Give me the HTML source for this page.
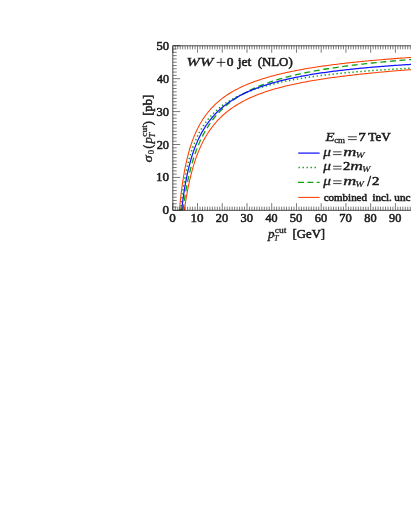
<!DOCTYPE html>
<html><head><meta charset="utf-8"><title>WW+0 jet (NLO)</title>
<style>
html,body{margin:0;padding:0;background:#fff;}
body{width:411px;height:532px;overflow:hidden;font-family:"Liberation Serif",serif;}
svg{display:block;will-change:transform;}
text{font-family:"Liberation Serif",serif;fill:#1c1c1c;}
</style></head><body>
<svg width="411" height="532" viewBox="0 0 411 532">
<rect width="411" height="532" fill="#fff"/>
<g fill="none" stroke-linejoin="round">
<path d="M179.41,210.35 L179.56,208.68 L179.71,207.05 L179.86,205.46 L180.02,203.92 L180.17,202.41 L180.32,200.94 L180.47,199.51 L180.63,198.12 L180.78,196.76 L180.93,195.43 L181.08,194.13 L181.24,192.86 L181.39,191.62 L181.54,190.40 L181.69,189.22 L181.85,188.06 L182.00,186.92 L182.15,185.80 L182.30,184.71 L182.46,183.65 L182.61,182.60 L182.76,181.57 L182.91,180.56 L183.07,179.58 L183.22,178.61 L183.37,177.65 L183.52,176.72 L183.68,175.80 L183.83,174.90 L183.98,174.02 L184.13,173.15 L184.29,172.29 L184.44,171.45 L184.59,170.63 L184.74,169.81 L184.90,169.01 L185.05,168.23 L185.20,167.45 L185.35,166.69 L185.51,165.94 L185.66,165.20 L185.81,164.48 L185.96,163.76 L186.12,163.05 L186.27,162.36 L186.42,161.68 L186.57,161.00 L186.73,160.33 L186.88,159.68 L187.03,159.03 L187.18,158.39 L187.33,157.77 L187.49,157.15 L187.64,156.53 L187.79,155.93 L187.94,155.33 L188.10,154.75 L188.25,154.17 L188.40,153.59 L188.55,153.03 L188.71,152.47 L188.86,151.92 L189.01,151.37 L189.16,150.84 L189.32,150.30 L189.47,149.78 L189.62,149.26 L189.77,148.75 L189.93,148.24 L190.08,147.74 L190.23,147.25 L190.38,146.76 L190.54,146.28 L190.69,145.80 L190.84,145.33 L190.99,144.86 L191.15,144.40 L191.30,143.94 L191.45,143.49 L191.60,143.04 L191.76,142.60 L191.91,142.16 L192.06,141.73 L192.21,141.30 L192.37,140.88 L192.52,140.46 L192.67,140.04 L192.82,139.63 L192.98,139.23 L193.13,138.82 L193.28,138.43 L193.43,138.03 L193.59,137.64 L193.74,137.25 L193.89,136.87 L194.04,136.49 L194.20,136.12 L194.35,135.74 L194.50,135.38 L194.65,135.01 L194.81,134.65 L194.96,134.29 L195.11,133.94 L195.26,133.58 L195.42,133.24 L195.57,132.89 L195.72,132.55 L195.87,132.21 L196.03,131.87 L196.18,131.54 L196.33,131.21 L196.48,130.88 L196.64,130.56 L196.79,130.24 L196.94,129.92 L197.09,129.60 L197.25,129.29 L197.40,128.98 L197.55,128.67 L197.70,128.36 L197.85,128.06 L198.01,127.76 L198.16,127.46 L198.31,127.17 L198.46,126.87 L198.62,126.58 L198.77,126.30 L198.92,126.01 L199.07,125.73 L199.23,125.44 L199.38,125.16 L199.53,124.89 L199.68,124.61 L199.84,124.34 L199.99,124.07 L200.14,123.80 L200.29,123.53 L200.45,123.27 L200.60,123.01 L200.75,122.74 L200.90,122.49 L201.06,122.23 L201.21,121.97 L201.36,121.72 L201.51,121.47 L201.67,121.22 L201.82,120.97 L201.97,120.73 L202.12,120.48 L202.28,120.24 L202.43,120.00 L202.58,119.76 L202.73,119.52 L202.89,119.29 L203.04,119.05 L203.19,118.82 L203.34,118.59 L203.50,118.36 L203.65,118.14 L203.80,117.91 L203.95,117.69 L204.11,117.46 L204.26,117.24 L204.41,117.02 L204.56,116.80 L204.72,116.59 L204.87,116.37 L205.02,116.16 L205.17,115.94 L205.33,115.73 L205.48,115.52 L205.63,115.31 L205.78,115.11 L205.94,114.90 L206.09,114.70 L206.24,114.49 L206.39,114.29 L206.55,114.09 L206.70,113.89 L206.85,113.69 L207.00,113.50 L207.16,113.30 L207.31,113.11 L207.46,112.91 L207.61,112.72 L207.77,112.53 L207.92,112.34 L208.07,112.15 L208.22,111.96 L208.37,111.78 L208.53,111.59 L208.68,111.41 L208.83,111.23 L208.98,111.04 L209.14,110.86 L209.29,110.68 L209.44,110.50 L209.59,110.33 L209.75,110.15 L209.90,109.97 L211.49,108.20 L213.08,106.53 L214.67,104.94 L216.26,103.44 L217.86,102.02 L219.45,100.67 L221.04,99.38 L222.63,98.15 L224.22,96.98 L225.81,95.86 L227.40,94.79 L229.00,93.76 L230.59,92.77 L232.18,91.82 L233.77,90.91 L235.36,90.03 L236.95,89.19 L238.54,88.37 L240.14,87.59 L241.73,86.83 L243.32,86.09 L244.91,85.38 L246.50,84.70 L248.09,84.03 L249.68,83.39 L251.27,82.77 L252.87,82.16 L254.46,81.57 L256.05,81.00 L257.64,80.45 L259.23,79.91 L260.82,79.38 L262.41,78.87 L264.01,78.38 L265.60,77.89 L267.19,77.42 L268.78,76.96 L270.37,76.52 L271.96,76.08 L273.55,75.65 L275.14,75.24 L276.74,74.83 L278.33,74.44 L279.92,74.05 L281.51,73.67 L283.10,73.30 L284.69,72.94 L286.28,72.58 L287.88,72.23 L289.47,71.90 L291.06,71.56 L292.65,71.24 L294.24,70.92 L295.83,70.61 L297.42,70.30 L299.01,70.00 L300.61,69.70 L302.20,69.42 L303.79,69.13 L305.38,68.85 L306.97,68.58 L308.56,68.31 L310.15,68.05 L311.75,67.79 L313.34,67.54 L314.93,67.29 L316.52,67.04 L318.11,66.80 L319.70,66.57 L321.29,66.33 L322.89,66.10 L324.48,65.88 L326.07,65.66 L327.66,65.44 L329.25,65.23 L330.84,65.01 L332.43,64.81 L334.02,64.60 L335.62,64.40 L337.21,64.20 L338.80,64.01 L340.39,63.81 L341.98,63.63 L343.57,63.44 L345.16,63.25 L346.76,63.07 L348.35,62.89 L349.94,62.72 L351.53,62.54 L353.12,62.37 L354.71,62.20 L356.30,62.04 L357.89,61.87 L359.49,61.71 L361.08,61.55 L362.67,61.39 L364.26,61.24 L365.85,61.08 L367.44,60.93 L369.03,60.78 L370.63,60.63 L372.22,60.49 L373.81,60.34 L375.40,60.20 L376.99,60.06 L378.58,59.92 L380.17,59.78 L381.77,59.65 L383.36,59.51 L384.95,59.38 L386.54,59.25 L388.13,59.12 L389.72,58.99 L391.31,58.87 L392.90,58.74 L394.50,58.62 L396.09,58.50 L397.68,58.38 L399.27,58.26 L400.86,58.14 L402.45,58.02 L404.04,57.90 L405.64,57.79 L407.23,57.68 L408.82,57.57 L410.41,57.45 L412.00,57.34" stroke="#ff3c00" stroke-width="1.05"/>
<path d="M184.33,210.35 L184.44,209.57 L184.59,208.49 L184.74,207.43 L184.90,206.38 L185.05,205.35 L185.20,204.34 L185.35,203.34 L185.51,202.36 L185.66,201.39 L185.81,200.44 L185.96,199.50 L186.12,198.58 L186.27,197.67 L186.42,196.77 L186.57,195.89 L186.73,195.02 L186.88,194.16 L187.03,193.31 L187.18,192.48 L187.33,191.66 L187.49,190.84 L187.64,190.04 L187.79,189.25 L187.94,188.47 L188.10,187.71 L188.25,186.95 L188.40,186.20 L188.55,185.46 L188.71,184.73 L188.86,184.01 L189.01,183.30 L189.16,182.59 L189.32,181.90 L189.47,181.21 L189.62,180.54 L189.77,179.87 L189.93,179.21 L190.08,178.55 L190.23,177.91 L190.38,177.27 L190.54,176.64 L190.69,176.02 L190.84,175.40 L190.99,174.79 L191.15,174.19 L191.30,173.60 L191.45,173.01 L191.60,172.43 L191.76,171.85 L191.91,171.28 L192.06,170.72 L192.21,170.16 L192.37,169.61 L192.52,169.07 L192.67,168.53 L192.82,167.99 L192.98,167.46 L193.13,166.94 L193.28,166.42 L193.43,165.91 L193.59,165.41 L193.74,164.90 L193.89,164.41 L194.04,163.92 L194.20,163.43 L194.35,162.95 L194.50,162.47 L194.65,162.00 L194.81,161.53 L194.96,161.07 L195.11,160.61 L195.26,160.15 L195.42,159.70 L195.57,159.26 L195.72,158.81 L195.87,158.38 L196.03,157.94 L196.18,157.51 L196.33,157.09 L196.48,156.66 L196.64,156.25 L196.79,155.83 L196.94,155.42 L197.09,155.01 L197.25,154.61 L197.40,154.21 L197.55,153.81 L197.70,153.42 L197.85,153.03 L198.01,152.64 L198.16,152.26 L198.31,151.88 L198.46,151.50 L198.62,151.13 L198.77,150.76 L198.92,150.39 L199.07,150.03 L199.23,149.67 L199.38,149.31 L199.53,148.95 L199.68,148.60 L199.84,148.25 L199.99,147.91 L200.14,147.56 L200.29,147.22 L200.45,146.88 L200.60,146.55 L200.75,146.21 L200.90,145.88 L201.06,145.56 L201.21,145.23 L201.36,144.91 L201.51,144.59 L201.67,144.27 L201.82,143.95 L201.97,143.64 L202.12,143.33 L202.28,143.02 L202.43,142.72 L202.58,142.41 L202.73,142.11 L202.89,141.81 L203.04,141.51 L203.19,141.22 L203.34,140.93 L203.50,140.64 L203.65,140.35 L203.80,140.06 L203.95,139.78 L204.11,139.49 L204.26,139.21 L204.41,138.93 L204.56,138.66 L204.72,138.38 L204.87,138.11 L205.02,137.84 L205.17,137.57 L205.33,137.30 L205.48,137.04 L205.63,136.78 L205.78,136.51 L205.94,136.26 L206.09,136.00 L206.24,135.74 L206.39,135.49 L206.55,135.23 L206.70,134.98 L206.85,134.73 L207.00,134.49 L207.16,134.24 L207.31,133.99 L207.46,133.75 L207.61,133.51 L207.77,133.27 L207.92,133.03 L208.07,132.80 L208.22,132.56 L208.37,132.33 L208.53,132.09 L208.68,131.86 L208.83,131.63 L208.98,131.41 L209.14,131.18 L209.29,130.96 L209.44,130.73 L209.59,130.51 L209.75,130.29 L209.90,130.07 L211.49,127.86 L213.08,125.78 L214.67,123.82 L216.26,121.97 L217.86,120.22 L219.45,118.57 L221.04,117.00 L222.63,115.51 L224.22,114.09 L225.81,112.73 L227.40,111.44 L229.00,110.21 L230.59,109.03 L232.18,107.91 L233.77,106.83 L235.36,105.79 L236.95,104.79 L238.54,103.84 L240.14,102.92 L241.73,102.03 L243.32,101.18 L244.91,100.36 L246.50,99.56 L248.09,98.80 L249.68,98.06 L251.27,97.34 L252.87,96.65 L254.46,95.98 L256.05,95.33 L257.64,94.70 L259.23,94.09 L260.82,93.50 L262.41,92.93 L264.01,92.37 L265.60,91.83 L267.19,91.30 L268.78,90.79 L270.37,90.29 L271.96,89.81 L273.55,89.33 L275.14,88.87 L276.74,88.42 L278.33,87.99 L279.92,87.56 L281.51,87.14 L283.10,86.74 L284.69,86.34 L286.28,85.95 L287.88,85.58 L289.47,85.21 L291.06,84.84 L292.65,84.49 L294.24,84.14 L295.83,83.81 L297.42,83.47 L299.01,83.15 L300.61,82.83 L302.20,82.52 L303.79,82.21 L305.38,81.92 L306.97,81.62 L308.56,81.33 L310.15,81.05 L311.75,80.77 L313.34,80.50 L314.93,80.24 L316.52,79.97 L318.11,79.72 L319.70,79.46 L321.29,79.21 L322.89,78.97 L324.48,78.73 L326.07,78.49 L327.66,78.26 L329.25,78.03 L330.84,77.81 L332.43,77.58 L334.02,77.37 L335.62,77.15 L337.21,76.94 L338.80,76.73 L340.39,76.53 L341.98,76.32 L343.57,76.13 L345.16,75.93 L346.76,75.74 L348.35,75.55 L349.94,75.36 L351.53,75.17 L353.12,74.99 L354.71,74.81 L356.30,74.63 L357.89,74.45 L359.49,74.28 L361.08,74.11 L362.67,73.94 L364.26,73.77 L365.85,73.61 L367.44,73.44 L369.03,73.28 L370.63,73.12 L372.22,72.97 L373.81,72.81 L375.40,72.66 L376.99,72.50 L378.58,72.35 L380.17,72.20 L381.77,72.06 L383.36,71.91 L384.95,71.77 L386.54,71.62 L388.13,71.48 L389.72,71.34 L391.31,71.21 L392.90,71.07 L394.50,70.93 L396.09,70.80 L397.68,70.67 L399.27,70.54 L400.86,70.40 L402.45,70.28 L404.04,70.15 L405.64,70.02 L407.23,69.90 L408.82,69.77 L410.41,69.65 L412.00,69.53" stroke="#ff3c00" stroke-width="1.05"/>
<path d="M180.62,210.35 L180.63,210.25 L180.78,208.72 L180.93,207.23 L181.08,205.78 L181.24,204.37 L181.39,202.99 L181.54,201.64 L181.69,200.32 L181.85,199.04 L182.00,197.78 L182.15,196.55 L182.30,195.35 L182.46,194.17 L182.61,193.02 L182.76,191.89 L182.91,190.79 L183.07,189.71 L183.22,188.65 L183.37,187.61 L183.52,186.59 L183.68,185.60 L183.83,184.62 L183.98,183.66 L184.13,182.71 L184.29,181.79 L184.44,180.88 L184.59,179.99 L184.74,179.11 L184.90,178.25 L185.05,177.40 L185.20,176.57 L185.35,175.75 L185.51,174.94 L185.66,174.15 L185.81,173.37 L185.96,172.61 L186.12,171.85 L186.27,171.11 L186.42,170.38 L186.57,169.66 L186.73,168.95 L186.88,168.25 L187.03,167.57 L187.18,166.89 L187.33,166.22 L187.49,165.56 L187.64,164.92 L187.79,164.28 L187.94,163.65 L188.10,163.03 L188.25,162.41 L188.40,161.81 L188.55,161.21 L188.71,160.62 L188.86,160.04 L189.01,159.47 L189.16,158.91 L189.32,158.35 L189.47,157.80 L189.62,157.25 L189.77,156.72 L189.93,156.19 L190.08,155.66 L190.23,155.14 L190.38,154.63 L190.54,154.13 L190.69,153.63 L190.84,153.14 L190.99,152.65 L191.15,152.17 L191.30,151.69 L191.45,151.22 L191.60,150.76 L191.76,150.30 L191.91,149.84 L192.06,149.39 L192.21,148.95 L192.37,148.51 L192.52,148.08 L192.67,147.65 L192.82,147.22 L192.98,146.80 L193.13,146.38 L193.28,145.97 L193.43,145.56 L193.59,145.16 L193.74,144.76 L193.89,144.37 L194.04,143.97 L194.20,143.59 L194.35,143.20 L194.50,142.82 L194.65,142.45 L194.81,142.08 L194.96,141.71 L195.11,141.34 L195.26,140.98 L195.42,140.62 L195.57,140.27 L195.72,139.92 L195.87,139.57 L196.03,139.23 L196.18,138.89 L196.33,138.55 L196.48,138.21 L196.64,137.88 L196.79,137.55 L196.94,137.22 L197.09,136.90 L197.25,136.58 L197.40,136.26 L197.55,135.95 L197.70,135.64 L197.85,135.33 L198.01,135.02 L198.16,134.72 L198.31,134.42 L198.46,134.12 L198.62,133.82 L198.77,133.53 L198.92,133.24 L199.07,132.95 L199.23,132.66 L199.38,132.38 L199.53,132.10 L199.68,131.82 L199.84,131.54 L199.99,131.27 L200.14,130.99 L200.29,130.72 L200.45,130.46 L200.60,130.19 L200.75,129.93 L200.90,129.66 L201.06,129.40 L201.21,129.15 L201.36,128.89 L201.51,128.64 L201.67,128.38 L201.82,128.13 L201.97,127.88 L202.12,127.64 L202.28,127.39 L202.43,127.15 L202.58,126.91 L202.73,126.67 L202.89,126.43 L203.04,126.20 L203.19,125.96 L203.34,125.73 L203.50,125.50 L203.65,125.27 L203.80,125.04 L203.95,124.82 L204.11,124.59 L204.26,124.37 L204.41,124.15 L204.56,123.93 L204.72,123.71 L204.87,123.50 L205.02,123.28 L205.17,123.07 L205.33,122.86 L205.48,122.65 L205.63,122.44 L205.78,122.23 L205.94,122.02 L206.09,121.82 L206.24,121.62 L206.39,121.41 L206.55,121.21 L206.70,121.01 L206.85,120.81 L207.00,120.62 L207.16,120.42 L207.31,120.23 L207.46,120.03 L207.61,119.84 L207.77,119.65 L207.92,119.46 L208.07,119.27 L208.22,119.09 L208.37,118.90 L208.53,118.72 L208.68,118.53 L208.83,118.35 L208.98,118.17 L209.14,117.99 L209.29,117.81 L209.44,117.63 L209.59,117.45 L209.75,117.28 L209.90,117.10 L211.49,115.34 L213.08,113.68 L214.67,112.11 L216.26,110.63 L217.86,109.23 L219.45,107.90 L221.04,106.64 L222.63,105.43 L224.22,104.29 L225.81,103.19 L227.40,102.15 L229.00,101.15 L230.59,100.19 L232.18,99.27 L233.77,98.39 L235.36,97.54 L236.95,96.73 L238.54,95.95 L240.14,95.19 L241.73,94.46 L243.32,93.76 L244.91,93.09 L246.50,92.43 L248.09,91.80 L249.68,91.19 L251.27,90.59 L252.87,90.02 L254.46,89.46 L256.05,88.93 L257.64,88.40 L259.23,87.90 L260.82,87.40 L262.41,86.92 L264.01,86.46 L265.60,86.01 L267.19,85.57 L268.78,85.14 L270.37,84.72 L271.96,84.32 L273.55,83.92 L275.14,83.54 L276.74,83.16 L278.33,82.80 L279.92,82.44 L281.51,82.09 L283.10,81.75 L284.69,81.42 L286.28,81.10 L287.88,80.78 L289.47,80.47 L291.06,80.17 L292.65,79.88 L294.24,79.59 L295.83,79.31 L297.42,79.03 L299.01,78.76 L300.61,78.50 L302.20,78.24 L303.79,77.98 L305.38,77.73 L306.97,77.49 L308.56,77.25 L310.15,77.02 L311.75,76.79 L313.34,76.57 L314.93,76.35 L316.52,76.13 L318.11,75.92 L319.70,75.71 L321.29,75.51 L322.89,75.31 L324.48,75.12 L326.07,74.92 L327.66,74.73 L329.25,74.55 L330.84,74.37 L332.43,74.19 L334.02,74.01 L335.62,73.84 L337.21,73.67 L338.80,73.51 L340.39,73.34 L341.98,73.18 L343.57,73.03 L345.16,72.87 L346.76,72.72 L348.35,72.57 L349.94,72.42 L351.53,72.28 L353.12,72.13 L354.71,71.99 L356.30,71.85 L357.89,71.72 L359.49,71.59 L361.08,71.45 L362.67,71.32 L364.26,71.20 L365.85,71.07 L367.44,70.95 L369.03,70.83 L370.63,70.71 L372.22,70.59 L373.81,70.47 L375.40,70.36 L376.99,70.25 L378.58,70.14 L380.17,70.03 L381.77,69.92 L383.36,69.81 L384.95,69.71 L386.54,69.61 L388.13,69.51 L389.72,69.41 L391.31,69.31 L392.90,69.21 L394.50,69.12 L396.09,69.02 L397.68,68.93 L399.27,68.84 L400.86,68.75 L402.45,68.66 L404.04,68.57 L405.64,68.49 L407.23,68.40 L408.82,68.32 L410.41,68.23 L412.00,68.15" stroke="#12a012" stroke-width="1.5" stroke-dasharray="1.4 2.6"/>
<path d="M182.93,210.35 L183.07,209.32 L183.22,208.17 L183.37,207.04 L183.52,205.93 L183.68,204.84 L183.83,203.77 L183.98,202.72 L184.13,201.68 L184.29,200.66 L184.44,199.65 L184.59,198.66 L184.74,197.69 L184.90,196.73 L185.05,195.78 L185.20,194.85 L185.35,193.94 L185.51,193.03 L185.66,192.14 L185.81,191.26 L185.96,190.40 L186.12,189.54 L186.27,188.70 L186.42,187.87 L186.57,187.05 L186.73,186.24 L186.88,185.45 L187.03,184.66 L187.18,183.88 L187.33,183.12 L187.49,182.36 L187.64,181.62 L187.79,180.88 L187.94,180.15 L188.10,179.43 L188.25,178.72 L188.40,178.02 L188.55,177.33 L188.71,176.64 L188.86,175.97 L189.01,175.30 L189.16,174.64 L189.32,173.99 L189.47,173.34 L189.62,172.70 L189.77,172.07 L189.93,171.45 L190.08,170.83 L190.23,170.22 L190.38,169.62 L190.54,169.02 L190.69,168.43 L190.84,167.85 L190.99,167.27 L191.15,166.70 L191.30,166.14 L191.45,165.58 L191.60,165.03 L191.76,164.48 L191.91,163.94 L192.06,163.40 L192.21,162.87 L192.37,162.34 L192.52,161.82 L192.67,161.31 L192.82,160.80 L192.98,160.29 L193.13,159.79 L193.28,159.30 L193.43,158.81 L193.59,158.32 L193.74,157.84 L193.89,157.36 L194.04,156.89 L194.20,156.42 L194.35,155.96 L194.50,155.50 L194.65,155.05 L194.81,154.59 L194.96,154.15 L195.11,153.70 L195.26,153.27 L195.42,152.83 L195.57,152.40 L195.72,151.97 L195.87,151.55 L196.03,151.13 L196.18,150.71 L196.33,150.30 L196.48,149.89 L196.64,149.49 L196.79,149.08 L196.94,148.68 L197.09,148.29 L197.25,147.90 L197.40,147.51 L197.55,147.12 L197.70,146.74 L197.85,146.36 L198.01,145.98 L198.16,145.61 L198.31,145.24 L198.46,144.87 L198.62,144.51 L198.77,144.14 L198.92,143.79 L199.07,143.43 L199.23,143.08 L199.38,142.73 L199.53,142.38 L199.68,142.03 L199.84,141.69 L199.99,141.35 L200.14,141.01 L200.29,140.68 L200.45,140.35 L200.60,140.02 L200.75,139.69 L200.90,139.36 L201.06,139.04 L201.21,138.72 L201.36,138.40 L201.51,138.09 L201.67,137.77 L201.82,137.46 L201.97,137.15 L202.12,136.85 L202.28,136.54 L202.43,136.24 L202.58,135.94 L202.73,135.64 L202.89,135.34 L203.04,135.05 L203.19,134.76 L203.34,134.47 L203.50,134.18 L203.65,133.89 L203.80,133.61 L203.95,133.33 L204.11,133.05 L204.26,132.77 L204.41,132.49 L204.56,132.22 L204.72,131.94 L204.87,131.67 L205.02,131.40 L205.17,131.13 L205.33,130.87 L205.48,130.60 L205.63,130.34 L205.78,130.08 L205.94,129.82 L206.09,129.56 L206.24,129.31 L206.39,129.05 L206.55,128.80 L206.70,128.55 L206.85,128.30 L207.00,128.05 L207.16,127.81 L207.31,127.56 L207.46,127.32 L207.61,127.08 L207.77,126.84 L207.92,126.60 L208.07,126.36 L208.22,126.12 L208.37,125.89 L208.53,125.66 L208.68,125.42 L208.83,125.19 L208.98,124.96 L209.14,124.74 L209.29,124.51 L209.44,124.28 L209.59,124.06 L209.75,123.84 L209.90,123.62 L211.49,121.38 L213.08,119.27 L214.67,117.28 L216.26,115.39 L217.86,113.60 L219.45,111.90 L221.04,110.29 L222.63,108.74 L224.22,107.27 L225.81,105.87 L227.40,104.52 L229.00,103.24 L230.59,102.00 L232.18,100.82 L233.77,99.68 L235.36,98.59 L236.95,97.54 L238.54,96.52 L240.14,95.55 L241.73,94.60 L243.32,93.70 L244.91,92.82 L246.50,91.97 L248.09,91.15 L249.68,90.36 L251.27,89.59 L252.87,88.84 L254.46,88.12 L256.05,87.42 L257.64,86.74 L259.23,86.08 L260.82,85.44 L262.41,84.82 L264.01,84.21 L265.60,83.62 L267.19,83.05 L268.78,82.49 L270.37,81.95 L271.96,81.42 L273.55,80.90 L275.14,80.40 L276.74,79.91 L278.33,79.43 L279.92,78.96 L281.51,78.51 L283.10,78.06 L284.69,77.63 L286.28,77.20 L287.88,76.78 L289.47,76.38 L291.06,75.98 L292.65,75.59 L294.24,75.21 L295.83,74.84 L297.42,74.47 L299.01,74.12 L300.61,73.77 L302.20,73.42 L303.79,73.09 L305.38,72.76 L306.97,72.44 L308.56,72.12 L310.15,71.81 L311.75,71.51 L313.34,71.21 L314.93,70.91 L316.52,70.62 L318.11,70.34 L319.70,70.06 L321.29,69.79 L322.89,69.52 L324.48,69.26 L326.07,69.00 L327.66,68.75 L329.25,68.50 L330.84,68.25 L332.43,68.01 L334.02,67.77 L335.62,67.54 L337.21,67.30 L338.80,67.08 L340.39,66.85 L341.98,66.63 L343.57,66.42 L345.16,66.21 L346.76,66.00 L348.35,65.79 L349.94,65.59 L351.53,65.38 L353.12,65.19 L354.71,64.99 L356.30,64.80 L357.89,64.61 L359.49,64.42 L361.08,64.24 L362.67,64.06 L364.26,63.88 L365.85,63.70 L367.44,63.53 L369.03,63.36 L370.63,63.19 L372.22,63.02 L373.81,62.85 L375.40,62.69 L376.99,62.53 L378.58,62.37 L380.17,62.21 L381.77,62.06 L383.36,61.90 L384.95,61.75 L386.54,61.60 L388.13,61.46 L389.72,61.31 L391.31,61.17 L392.90,61.02 L394.50,60.88 L396.09,60.74 L397.68,60.61 L399.27,60.47 L400.86,60.33 L402.45,60.20 L404.04,60.07 L405.64,59.94 L407.23,59.81 L408.82,59.68 L410.41,59.56 L412.00,59.43" stroke="#12a012" stroke-width="1.3" stroke-dasharray="6 3.6"/>
<path d="M181.64,210.35 L181.69,209.85 L181.85,208.52 L182.00,207.21 L182.15,205.93 L182.30,204.68 L182.46,203.46 L182.61,202.25 L182.76,201.08 L182.91,199.92 L183.07,198.79 L183.22,197.68 L183.37,196.59 L183.52,195.53 L183.68,194.48 L183.83,193.45 L183.98,192.44 L184.13,191.44 L184.29,190.47 L184.44,189.51 L184.59,188.57 L184.74,187.64 L184.90,186.73 L185.05,185.83 L185.20,184.95 L185.35,184.08 L185.51,183.23 L185.66,182.39 L185.81,181.56 L185.96,180.75 L186.12,179.94 L186.27,179.15 L186.42,178.37 L186.57,177.61 L186.73,176.85 L186.88,176.11 L187.03,175.37 L187.18,174.65 L187.33,173.94 L187.49,173.23 L187.64,172.54 L187.79,171.85 L187.94,171.18 L188.10,170.51 L188.25,169.86 L188.40,169.21 L188.55,168.57 L188.71,167.93 L188.86,167.31 L189.01,166.69 L189.16,166.08 L189.32,165.48 L189.47,164.89 L189.62,164.30 L189.77,163.73 L189.93,163.15 L190.08,162.59 L190.23,162.03 L190.38,161.48 L190.54,160.93 L190.69,160.39 L190.84,159.86 L190.99,159.33 L191.15,158.81 L191.30,158.29 L191.45,157.78 L191.60,157.28 L191.76,156.78 L191.91,156.29 L192.06,155.80 L192.21,155.32 L192.37,154.84 L192.52,154.37 L192.67,153.90 L192.82,153.44 L192.98,152.98 L193.13,152.53 L193.28,152.08 L193.43,151.63 L193.59,151.20 L193.74,150.76 L193.89,150.33 L194.04,149.90 L194.20,149.48 L194.35,149.06 L194.50,148.65 L194.65,148.24 L194.81,147.83 L194.96,147.43 L195.11,147.03 L195.26,146.63 L195.42,146.24 L195.57,145.85 L195.72,145.47 L195.87,145.09 L196.03,144.71 L196.18,144.34 L196.33,143.97 L196.48,143.60 L196.64,143.24 L196.79,142.87 L196.94,142.52 L197.09,142.16 L197.25,141.81 L197.40,141.46 L197.55,141.12 L197.70,140.77 L197.85,140.43 L198.01,140.10 L198.16,139.76 L198.31,139.43 L198.46,139.10 L198.62,138.78 L198.77,138.45 L198.92,138.13 L199.07,137.82 L199.23,137.50 L199.38,137.19 L199.53,136.88 L199.68,136.57 L199.84,136.26 L199.99,135.96 L200.14,135.66 L200.29,135.36 L200.45,135.06 L200.60,134.77 L200.75,134.48 L200.90,134.19 L201.06,133.90 L201.21,133.62 L201.36,133.33 L201.51,133.05 L201.67,132.77 L201.82,132.50 L201.97,132.22 L202.12,131.95 L202.28,131.68 L202.43,131.41 L202.58,131.14 L202.73,130.88 L202.89,130.62 L203.04,130.36 L203.19,130.10 L203.34,129.84 L203.50,129.58 L203.65,129.33 L203.80,129.08 L203.95,128.83 L204.11,128.58 L204.26,128.33 L204.41,128.09 L204.56,127.84 L204.72,127.60 L204.87,127.36 L205.02,127.12 L205.17,126.88 L205.33,126.65 L205.48,126.41 L205.63,126.18 L205.78,125.95 L205.94,125.72 L206.09,125.49 L206.24,125.27 L206.39,125.04 L206.55,124.82 L206.70,124.60 L206.85,124.38 L207.00,124.16 L207.16,123.94 L207.31,123.72 L207.46,123.51 L207.61,123.29 L207.77,123.08 L207.92,122.87 L208.07,122.66 L208.22,122.45 L208.37,122.24 L208.53,122.04 L208.68,121.83 L208.83,121.63 L208.98,121.43 L209.14,121.23 L209.29,121.03 L209.44,120.83 L209.59,120.63 L209.75,120.43 L209.90,120.24 L211.49,118.27 L213.08,116.41 L214.67,114.65 L216.26,112.99 L217.86,111.42 L219.45,109.92 L221.04,108.50 L222.63,107.15 L224.22,105.85 L225.81,104.62 L227.40,103.44 L229.00,102.31 L230.59,101.22 L232.18,100.18 L233.77,99.18 L235.36,98.22 L236.95,97.30 L238.54,96.41 L240.14,95.55 L241.73,94.72 L243.32,93.93 L244.91,93.16 L246.50,92.41 L248.09,91.69 L249.68,90.99 L251.27,90.32 L252.87,89.66 L254.46,89.03 L256.05,88.41 L257.64,87.81 L259.23,87.23 L260.82,86.67 L262.41,86.12 L264.01,85.59 L265.60,85.07 L267.19,84.57 L268.78,84.08 L270.37,83.60 L271.96,83.14 L273.55,82.68 L275.14,82.24 L276.74,81.81 L278.33,81.39 L279.92,80.98 L281.51,80.58 L283.10,80.19 L284.69,79.81 L286.28,79.44 L287.88,79.07 L289.47,78.72 L291.06,78.37 L292.65,78.03 L294.24,77.69 L295.83,77.37 L297.42,77.05 L299.01,76.74 L300.61,76.43 L302.20,76.13 L303.79,75.84 L305.38,75.55 L306.97,75.27 L308.56,75.00 L310.15,74.73 L311.75,74.46 L313.34,74.20 L314.93,73.95 L316.52,73.70 L318.11,73.45 L319.70,73.21 L321.29,72.98 L322.89,72.74 L324.48,72.52 L326.07,72.29 L327.66,72.07 L329.25,71.86 L330.84,71.65 L332.43,71.44 L334.02,71.23 L335.62,71.03 L337.21,70.84 L338.80,70.64 L340.39,70.45 L341.98,70.26 L343.57,70.08 L345.16,69.90 L346.76,69.72 L348.35,69.54 L349.94,69.37 L351.53,69.20 L353.12,69.03 L354.71,68.87 L356.30,68.71 L357.89,68.55 L359.49,68.39 L361.08,68.24 L362.67,68.08 L364.26,67.94 L365.85,67.79 L367.44,67.64 L369.03,67.50 L370.63,67.36 L372.22,67.22 L373.81,67.08 L375.40,66.95 L376.99,66.81 L378.58,66.68 L380.17,66.55 L381.77,66.43 L383.36,66.30 L384.95,66.18 L386.54,66.06 L388.13,65.94 L389.72,65.82 L391.31,65.70 L392.90,65.58 L394.50,65.47 L396.09,65.36 L397.68,65.25 L399.27,65.14 L400.86,65.03 L402.45,64.92 L404.04,64.82 L405.64,64.72 L407.23,64.61 L408.82,64.51 L410.41,64.41 L412.00,64.32" stroke="#1414ff" stroke-width="1.25"/>
</g>
<path d="M172.80,210.35v-7.2M172.80,45.75v7M175.27,210.35v-3.7M175.27,45.75v3.6M177.75,210.35v-3.7M177.75,45.75v3.6M180.22,210.35v-3.7M180.22,45.75v3.6M182.69,210.35v-3.7M182.69,45.75v3.6M185.17,210.35v-3.7M185.17,45.75v3.6M187.64,210.35v-3.7M187.64,45.75v3.6M190.11,210.35v-3.7M190.11,45.75v3.6M192.59,210.35v-3.7M192.59,45.75v3.6M195.06,210.35v-3.7M195.06,45.75v3.6M197.53,210.35v-7.2M197.53,45.75v7M200.01,210.35v-3.7M200.01,45.75v3.6M202.48,210.35v-3.7M202.48,45.75v3.6M204.95,210.35v-3.7M204.95,45.75v3.6M207.43,210.35v-3.7M207.43,45.75v3.6M209.90,210.35v-3.7M209.90,45.75v3.6M212.37,210.35v-3.7M212.37,45.75v3.6M214.85,210.35v-3.7M214.85,45.75v3.6M217.32,210.35v-3.7M217.32,45.75v3.6M219.79,210.35v-3.7M219.79,45.75v3.6M222.27,210.35v-7.2M222.27,45.75v7M224.74,210.35v-3.7M224.74,45.75v3.6M227.21,210.35v-3.7M227.21,45.75v3.6M229.69,210.35v-3.7M229.69,45.75v3.6M232.16,210.35v-3.7M232.16,45.75v3.6M234.63,210.35v-3.7M234.63,45.75v3.6M237.11,210.35v-3.7M237.11,45.75v3.6M239.58,210.35v-3.7M239.58,45.75v3.6M242.05,210.35v-3.7M242.05,45.75v3.6M244.53,210.35v-3.7M244.53,45.75v3.6M247.00,210.35v-7.2M247.00,45.75v7M249.47,210.35v-3.7M249.47,45.75v3.6M251.95,210.35v-3.7M251.95,45.75v3.6M254.42,210.35v-3.7M254.42,45.75v3.6M256.89,210.35v-3.7M256.89,45.75v3.6M259.37,210.35v-3.7M259.37,45.75v3.6M261.84,210.35v-3.7M261.84,45.75v3.6M264.31,210.35v-3.7M264.31,45.75v3.6M266.79,210.35v-3.7M266.79,45.75v3.6M269.26,210.35v-3.7M269.26,45.75v3.6M271.73,210.35v-7.2M271.73,45.75v7M274.21,210.35v-3.7M274.21,45.75v3.6M276.68,210.35v-3.7M276.68,45.75v3.6M279.15,210.35v-3.7M279.15,45.75v3.6M281.63,210.35v-3.7M281.63,45.75v3.6M284.10,210.35v-3.7M284.10,45.75v3.6M286.57,210.35v-3.7M286.57,45.75v3.6M289.05,210.35v-3.7M289.05,45.75v3.6M291.52,210.35v-3.7M291.52,45.75v3.6M293.99,210.35v-3.7M293.99,45.75v3.6M296.47,210.35v-7.2M296.47,45.75v7M298.94,210.35v-3.7M298.94,45.75v3.6M301.41,210.35v-3.7M301.41,45.75v3.6M303.88,210.35v-3.7M303.88,45.75v3.6M306.36,210.35v-3.7M306.36,45.75v3.6M308.83,210.35v-3.7M308.83,45.75v3.6M311.30,210.35v-3.7M311.30,45.75v3.6M313.78,210.35v-3.7M313.78,45.75v3.6M316.25,210.35v-3.7M316.25,45.75v3.6M318.72,210.35v-3.7M318.72,45.75v3.6M321.20,210.35v-7.2M321.20,45.75v7M323.67,210.35v-3.7M323.67,45.75v3.6M326.14,210.35v-3.7M326.14,45.75v3.6M328.62,210.35v-3.7M328.62,45.75v3.6M331.09,210.35v-3.7M331.09,45.75v3.6M333.56,210.35v-3.7M333.56,45.75v3.6M336.04,210.35v-3.7M336.04,45.75v3.6M338.51,210.35v-3.7M338.51,45.75v3.6M340.98,210.35v-3.7M340.98,45.75v3.6M343.46,210.35v-3.7M343.46,45.75v3.6M345.93,210.35v-7.2M345.93,45.75v7M348.40,210.35v-3.7M348.40,45.75v3.6M350.88,210.35v-3.7M350.88,45.75v3.6M353.35,210.35v-3.7M353.35,45.75v3.6M355.82,210.35v-3.7M355.82,45.75v3.6M358.30,210.35v-3.7M358.30,45.75v3.6M360.77,210.35v-3.7M360.77,45.75v3.6M363.24,210.35v-3.7M363.24,45.75v3.6M365.72,210.35v-3.7M365.72,45.75v3.6M368.19,210.35v-3.7M368.19,45.75v3.6M370.66,210.35v-7.2M370.66,45.75v7M373.14,210.35v-3.7M373.14,45.75v3.6M375.61,210.35v-3.7M375.61,45.75v3.6M378.08,210.35v-3.7M378.08,45.75v3.6M380.56,210.35v-3.7M380.56,45.75v3.6M383.03,210.35v-3.7M383.03,45.75v3.6M385.50,210.35v-3.7M385.50,45.75v3.6M387.98,210.35v-3.7M387.98,45.75v3.6M390.45,210.35v-3.7M390.45,45.75v3.6M392.92,210.35v-3.7M392.92,45.75v3.6M395.40,210.35v-7.2M395.40,45.75v7M397.87,210.35v-3.7M397.87,45.75v3.6M400.34,210.35v-3.7M400.34,45.75v3.6M402.82,210.35v-3.7M402.82,45.75v3.6M405.29,210.35v-3.7M405.29,45.75v3.6M407.76,210.35v-3.7M407.76,45.75v3.6M410.24,210.35v-3.7M410.24,45.75v3.6M172.8,210.35h7.4M172.8,207.06h3.9M172.8,203.77h3.9M172.8,200.47h3.9M172.8,197.18h3.9M172.8,193.89h3.9M172.8,190.60h3.9M172.8,187.31h3.9M172.8,184.01h3.9M172.8,180.72h3.9M172.8,177.43h7.4M172.8,174.14h3.9M172.8,170.85h3.9M172.8,167.55h3.9M172.8,164.26h3.9M172.8,160.97h3.9M172.8,157.68h3.9M172.8,154.39h3.9M172.8,151.09h3.9M172.8,147.80h3.9M172.8,144.51h7.4M172.8,141.22h3.9M172.8,137.93h3.9M172.8,134.63h3.9M172.8,131.34h3.9M172.8,128.05h3.9M172.8,124.76h3.9M172.8,121.47h3.9M172.8,118.17h3.9M172.8,114.88h3.9M172.8,111.59h7.4M172.8,108.30h3.9M172.8,105.01h3.9M172.8,101.71h3.9M172.8,98.42h3.9M172.8,95.13h3.9M172.8,91.84h3.9M172.8,88.55h3.9M172.8,85.25h3.9M172.8,81.96h3.9M172.8,78.67h7.4M172.8,75.38h3.9M172.8,72.09h3.9M172.8,68.79h3.9M172.8,65.50h3.9M172.8,62.21h3.9M172.8,58.92h3.9M172.8,55.63h3.9M172.8,52.33h3.9M172.8,49.04h3.9M172.8,45.75h7.4" stroke="#000" stroke-width="0.52" fill="none"/>
<path d="M412,45.75H172.8V210.35H412" stroke="#000" stroke-width="0.68" fill="none"/>
<path d="M216.6,62.4H225.4M221,58V66.8" stroke="#1c1c1c" stroke-width="0.9" fill="none"/>
<path d="M347.9,136.8H356.8M347.9,139.6H356.8M333.1,151.85H341.6M333.1,154.60H341.6M333.1,166.25H341.6M333.1,169.00H341.6M333.1,180.85H341.6M333.1,183.60H341.6" stroke="#1c1c1c" stroke-width="0.85" fill="none"/>
<path d="M298.2,153.1H319.6" stroke="#1414ff" stroke-width="1.25"/>
<path d="M298.5,167.6H317" stroke="#12a012" stroke-width="1.5" stroke-dasharray="1.4 2.6"/>
<path d="M298,182.4H319.6" stroke="#12a012" stroke-width="1.3" stroke-dasharray="6 3.4"/>
<path d="M298.2,197.4H319.6" stroke="#ff3c00" stroke-width="1.05"/>
<text transform="translate(186.59,65.80) scale(1.300,1)" style="font-size:12.3px;stroke:#1c1c1c;stroke-width:0.34px;font-style:italic;">WW</text>
<text transform="translate(226.63,65.80) scale(1.096,1)" style="font-size:12.3px;stroke:#1c1c1c;stroke-width:0.55px;">0</text>
<text transform="translate(237.70,65.80) scale(1.112,1)" style="font-size:12.3px;stroke:#1c1c1c;stroke-width:0.55px;">jet</text>
<text transform="translate(257.74,65.80) scale(1.045,1)" style="font-size:12.3px;stroke:#1c1c1c;stroke-width:0.55px;">(NLO)</text>
<text transform="translate(325.55,140.90) scale(1.206,1)" style="font-size:12.3px;stroke:#1c1c1c;stroke-width:0.34px;font-style:italic;">E</text>
<text transform="translate(334.15,142.85) scale(1.228,1)" style="font-size:7.3px;stroke:#1c1c1c;stroke-width:0.275px;">cm</text>
<text transform="translate(358.61,140.90) scale(1.182,1)" style="font-size:12.3px;stroke:#1c1c1c;stroke-width:0.55px;">7</text>
<text transform="translate(368.30,140.90) scale(1.065,1)" style="font-size:12.3px;stroke:#1c1c1c;stroke-width:0.55px;">TeV</text>
<text transform="translate(323.16,155.80) scale(1.250,1)" style="font-size:12.3px;stroke:#1c1c1c;stroke-width:0.34px;font-style:italic;">μ</text>
<text transform="translate(323.16,170.20) scale(1.250,1)" style="font-size:12.3px;stroke:#1c1c1c;stroke-width:0.34px;font-style:italic;">μ</text>
<text transform="translate(323.16,184.80) scale(1.250,1)" style="font-size:12.3px;stroke:#1c1c1c;stroke-width:0.34px;font-style:italic;">μ</text>
<text transform="translate(343.33,155.80) scale(1.479,1)" style="font-size:12.3px;stroke:#1c1c1c;stroke-width:0.34px;font-style:italic;">m</text>
<text transform="translate(355.44,157.80) scale(1.506,1)" style="font-size:7.3px;stroke:#1c1c1c;stroke-width:0.17px;font-style:italic;">W</text>
<text transform="translate(343.10,170.20) scale(1.182,1)" style="font-size:12.3px;stroke:#1c1c1c;stroke-width:0.55px;">2</text>
<text transform="translate(350.35,170.20) scale(1.418,1)" style="font-size:12.3px;stroke:#1c1c1c;stroke-width:0.34px;font-style:italic;">m</text>
<text transform="translate(361.98,172.20) scale(1.396,1)" style="font-size:7.3px;stroke:#1c1c1c;stroke-width:0.17px;font-style:italic;">W</text>
<text transform="translate(343.13,184.80) scale(1.467,1)" style="font-size:12.3px;stroke:#1c1c1c;stroke-width:0.34px;font-style:italic;">m</text>
<text transform="translate(355.16,186.80) scale(1.427,1)" style="font-size:7.3px;stroke:#1c1c1c;stroke-width:0.17px;font-style:italic;">W</text>
<text transform="translate(367.26,185.70) scale(0.973,1)" style="font-size:13.8px;stroke:#1c1c1c;stroke-width:0.55px;">/</text>
<text transform="translate(372.00,184.80) scale(1.200,1)" style="font-size:12.3px;stroke:#1c1c1c;stroke-width:0.55px;">2</text>
<text transform="translate(323.76,200.50) scale(1.086,1)" style="font-size:10.1px;stroke:#1c1c1c;stroke-width:0.55px;">combined</text>
<text transform="translate(372.50,200.50) scale(1.090,1)" style="font-size:10.1px;stroke:#1c1c1c;stroke-width:0.55px;">incl.</text>
<text transform="translate(394.34,200.50) scale(1.108,1)" style="font-size:10.1px;stroke:#1c1c1c;stroke-width:0.55px;">unc</text>
<text transform="translate(268.02,238.10) scale(1.052,1)" style="font-size:12.3px;stroke:#1c1c1c;stroke-width:0.34px;font-style:italic;">p</text>
<text transform="translate(273.75,241.00) scale(1.200,1)" style="font-size:7.3px;stroke:#1c1c1c;stroke-width:0.17px;font-style:italic;">T</text>
<text transform="translate(274.74,232.90) scale(1.307,1)" style="font-size:7.3px;stroke:#1c1c1c;stroke-width:0.275px;">cut</text>
<text transform="translate(292.55,238.00) scale(1.036,1)" style="font-size:12.3px;stroke:#1c1c1c;stroke-width:0.55px;">[GeV]</text>
<text transform="translate(169.28,222.00) scale(1.061,1)" style="font-size:12.3px;stroke:#1c1c1c;stroke-width:0.55px;">0</text>
<text transform="translate(190.46,222.00) scale(1.058,1)" style="font-size:12.3px;stroke:#1c1c1c;stroke-width:0.55px;">10</text>
<text transform="translate(215.87,222.00) scale(1.002,1)" style="font-size:12.3px;stroke:#1c1c1c;stroke-width:0.55px;">20</text>
<text transform="translate(240.47,222.00) scale(1.013,1)" style="font-size:12.3px;stroke:#1c1c1c;stroke-width:0.55px;">30</text>
<text transform="translate(265.58,222.00) scale(0.981,1)" style="font-size:12.3px;stroke:#1c1c1c;stroke-width:0.55px;">40</text>
<text transform="translate(289.80,222.00) scale(1.024,1)" style="font-size:12.3px;stroke:#1c1c1c;stroke-width:0.55px;">50</text>
<text transform="translate(314.80,222.00) scale(1.002,1)" style="font-size:12.3px;stroke:#1c1c1c;stroke-width:0.55px;">60</text>
<text transform="translate(339.27,222.00) scale(1.024,1)" style="font-size:12.3px;stroke:#1c1c1c;stroke-width:0.55px;">70</text>
<text transform="translate(364.26,222.00) scale(1.002,1)" style="font-size:12.3px;stroke:#1c1c1c;stroke-width:0.55px;">80</text>
<text transform="translate(389.12,222.00) scale(0.992,1)" style="font-size:12.3px;stroke:#1c1c1c;stroke-width:0.55px;">90</text>
<text transform="translate(162.43,214.40) scale(1.061,1)" style="font-size:12.3px;stroke:#1c1c1c;stroke-width:0.55px;">0</text>
<text transform="translate(155.97,181.48) scale(1.058,1)" style="font-size:12.3px;stroke:#1c1c1c;stroke-width:0.55px;">10</text>
<text transform="translate(156.65,148.56) scale(1.002,1)" style="font-size:12.3px;stroke:#1c1c1c;stroke-width:0.55px;">20</text>
<text transform="translate(156.52,115.64) scale(1.013,1)" style="font-size:12.3px;stroke:#1c1c1c;stroke-width:0.55px;">30</text>
<text transform="translate(156.90,82.72) scale(0.981,1)" style="font-size:12.3px;stroke:#1c1c1c;stroke-width:0.55px;">40</text>
<text transform="translate(156.39,49.80) scale(1.024,1)" style="font-size:12.3px;stroke:#1c1c1c;stroke-width:0.55px;">50</text>
<g transform="translate(152.1,162.2) rotate(-90)">
<text transform="translate(-0.30,0.00) scale(1.208,1)" style="font-size:12.3px;stroke:#1c1c1c;stroke-width:0.34px;font-style:italic;">σ</text>
<text transform="translate(7.95,1.50) scale(1.185,1)" style="font-size:7.3px;stroke:#1c1c1c;stroke-width:0.275px;">0</text>
<text transform="translate(13.77,0.00) scale(0.907,1)" style="font-size:12.3px;stroke:#1c1c1c;stroke-width:0.55px;">(</text>
<text transform="translate(18.82,0.00) scale(1.052,1)" style="font-size:12.3px;stroke:#1c1c1c;stroke-width:0.34px;font-style:italic;">p</text>
<text transform="translate(24.55,2.90) scale(1.200,1)" style="font-size:7.3px;stroke:#1c1c1c;stroke-width:0.17px;font-style:italic;">T</text>
<text transform="translate(25.54,-5.20) scale(1.307,1)" style="font-size:7.3px;stroke:#1c1c1c;stroke-width:0.275px;">cut</text>
<text transform="translate(37.28,0.00) scale(0.933,1)" style="font-size:12.3px;stroke:#1c1c1c;stroke-width:0.55px;">)</text>
<text transform="translate(46.36,0.00) scale(1.023,1)" style="font-size:12.3px;stroke:#1c1c1c;stroke-width:0.55px;">[pb]</text>
</g>
</svg></body></html>
